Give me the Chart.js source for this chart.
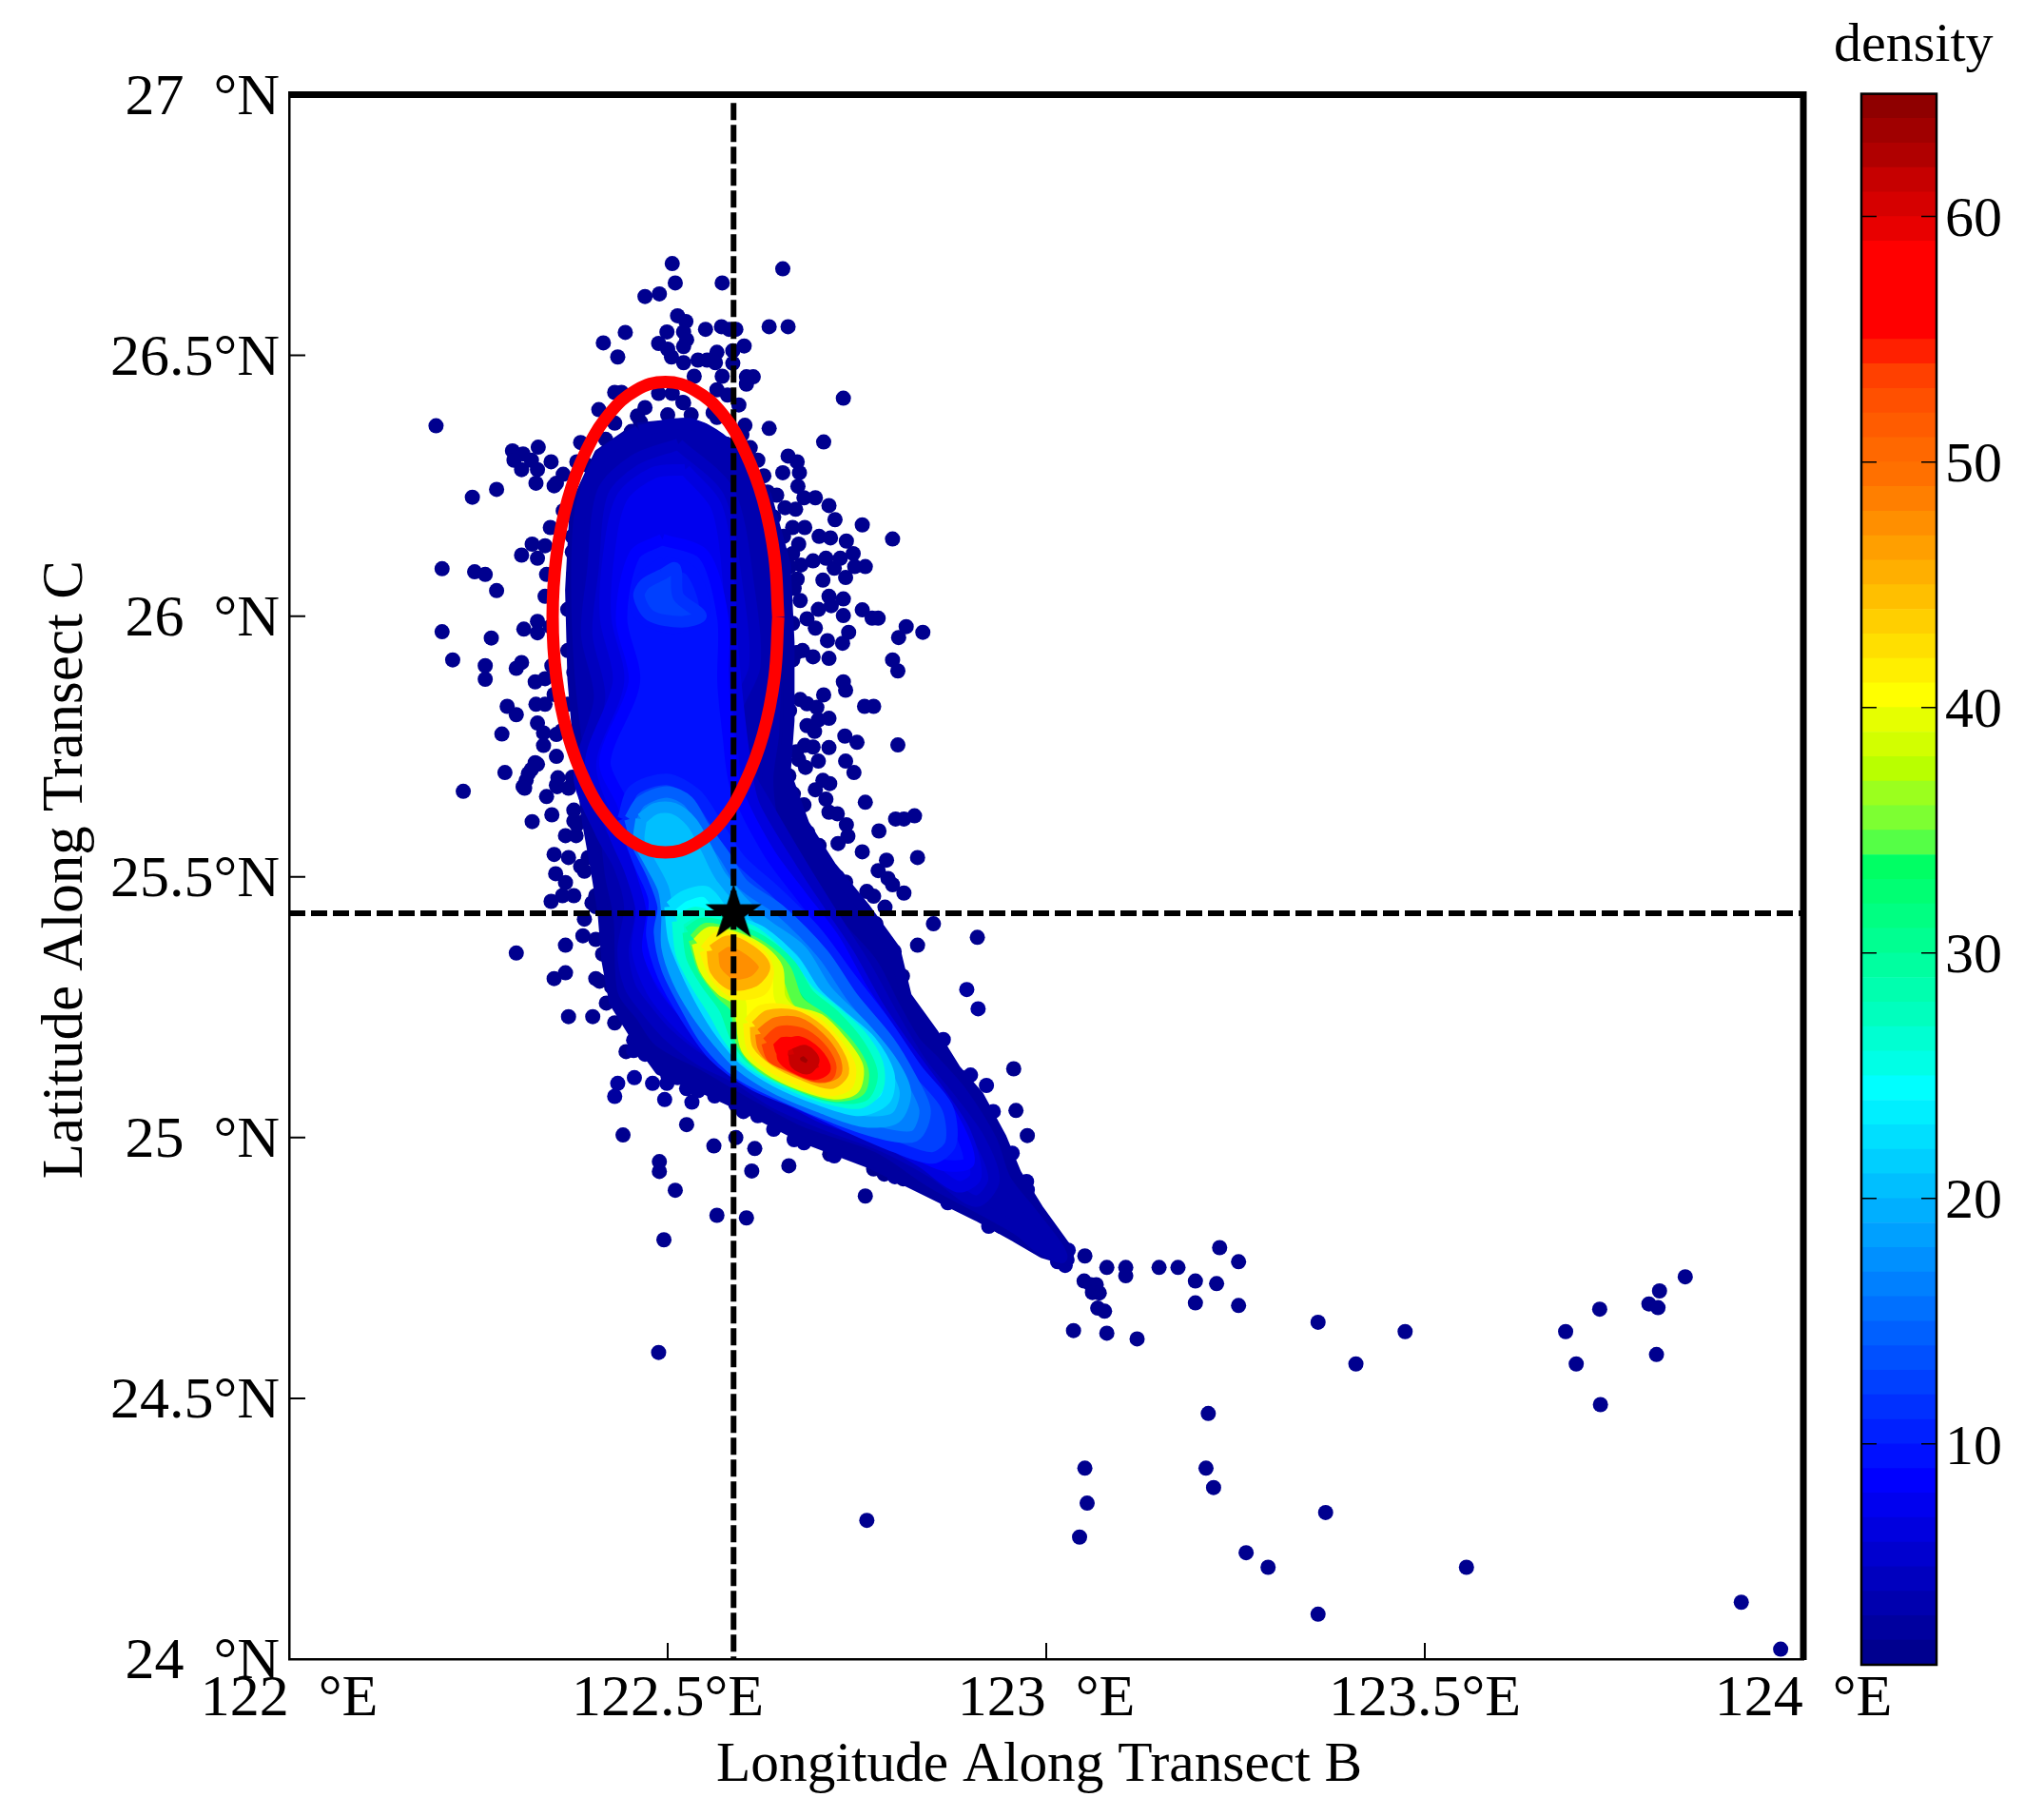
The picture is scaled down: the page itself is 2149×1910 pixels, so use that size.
<!DOCTYPE html>
<html>
<head>
<meta charset="utf-8">
<title>density</title>
<script src="https://cdn.jsdelivr.net/npm/chart.js@4/dist/chart.umd.js"></script>
<style>
  html, body { margin: 0; padding: 0; background: #fff; }
  #wrap { position: relative; width: 2149px; height: 1910px; }
  #mainBox { position: absolute; left: 0; top: 0; width: 2149px; height: 1910px; }
  #barBox { position: absolute; left: 1902px; top: 0; width: 247px; height: 1910px; }
</style>
</head>
<body>
<div id="wrap">
  <div id="mainBox"><canvas id="scatter"></canvas></div>
  <div id="barBox"><canvas id="colorbar"></canvas></div>
</div>
<script>
// ticks and labels
const xTicks = [122, 122.5, 123, 123.5, 124];
const xTickLabels = ['122  °E', '122.5°E', '123  °E', '123.5°E', '124  °E'];
const yTicks = [24, 24.5, 25, 25.5, 26, 26.5, 27];
const yTickLabels = ['24  °N', '24.5°N', '25  °N', '25.5°N', '26  °N', '26.5°N', '27  °N'];
const colorbarTicks = [10, 20, 30, 40, 50, 60];

// one colour per density band, 1-2 up to 64-65
const colorbarBands = [
  '#00008f','#00009f','#0000af','#0000bf','#0000cf','#0000df','#0000ef','#0000ff',
  '#0010ff','#0020ff','#0030ff','#0040ff','#0050ff','#0060ff','#0070ff','#0080ff',
  '#0090ff','#00a0ff','#00afff','#00bfff','#00cfff','#00dfff','#00efff','#00ffff',
  '#00ffe6','#00ffd2','#00ffbe','#00ffaf','#00ffa0','#00ff91','#00ff82','#00ff73','#00ff64',
  '#55ff46','#7dff32','#9bff1e','#b9ff00','#d2ff00','#e6ff00','#ffff00',
  '#ffef00','#ffdf00','#ffcf00','#ffbf00','#ffaf00','#ff9f00','#ff8f00','#ff7f00',
  '#ff7000','#ff6800','#ff5c00','#ff5000','#ff4000','#ff2000','#ff0000','#ff0000',
  '#ff0000','#ff0000','#e80000','#d60000','#c60000','#b00000','#a00000','#8f0000'
];

// reference lines and station
const stationLon = 122.587;
const stationLat = 25.43;
const ellipseOutline = [
  [122.646,25.998],[122.641,26.114],[122.626,26.223],[122.602,26.316],[122.572,26.388],[122.536,26.433],
  [122.497,26.449],[122.458,26.433],[122.423,26.388],[122.392,26.316],[122.368,26.223],[122.353,26.114],
  [122.348,25.998],[122.353,25.882],[122.368,25.773],[122.392,25.680],[122.423,25.608],[122.458,25.563],
  [122.497,25.547],[122.536,25.563],[122.572,25.608],[122.602,25.680],[122.626,25.773],[122.641,25.882],
  [122.646,25.998]
];

// isolated observations, lowest density
const farPoints = [
  [123.970,24.019],[123.918,24.109],[123.555,24.176],[123.359,24.086],[123.293,24.176],[123.264,24.204],
  [123.369,24.281],[123.044,24.234],[123.054,24.299],[123.051,24.366],[122.763,24.266],[123.221,24.329],
  [123.211,24.366],[123.214,24.471],[123.732,24.488],[123.409,24.566],[123.700,24.566],[123.806,24.584],
  [123.359,24.646],[123.686,24.628],[123.474,24.628],[123.731,24.671],[123.796,24.681],[123.808,24.674],
  [123.810,24.706],[123.844,24.733],[122.488,24.588],[122.495,24.804],[122.565,24.851],[122.604,24.846],
  [122.510,24.899],[122.489,24.954],[122.489,24.935],[122.441,25.005],[122.525,25.025],[122.590,25.000],
  [122.561,24.984],[122.615,24.979],[122.660,24.946],[122.611,24.936],[122.761,24.888],[122.714,24.968],
  [122.772,24.940],[122.786,24.930],[122.811,24.921],[122.975,25.004],[122.957,25.132],[122.960,25.052]
];
const tailPoints = [
  [123.051,24.773],[123.080,24.751],[123.105,24.751],[123.105,24.735],[123.149,24.751],[123.174,24.751],
  [123.229,24.789],[123.254,24.762],[123.197,24.725],[123.225,24.720],[123.197,24.683],[123.254,24.678],
  [123.050,24.725],[123.059,24.718],[123.066,24.718],[123.061,24.703],[123.070,24.702],[123.068,24.673],
  [123.077,24.667],[123.036,24.630],[123.080,24.625],[123.120,24.614]
];
const topCapPoints = [
  [122.506,26.676],[122.652,26.666],[122.510,26.639],[122.572,26.639],[122.489,26.618],[122.470,26.613],
  [122.513,26.576],[122.524,26.565],[122.444,26.544],[122.415,26.524],[122.434,26.497],[122.499,26.545],
  [122.521,26.545],[122.550,26.550],[122.571,26.555],[122.581,26.550],[122.590,26.550],[122.634,26.555],
  [122.659,26.555],[122.525,26.530],[122.521,26.517],[122.488,26.523],[122.500,26.512],[122.505,26.497],
  [122.521,26.486],[122.540,26.491],[122.552,26.491],[122.565,26.506],[122.563,26.486],[122.586,26.509],
  [122.601,26.518],[122.586,26.485],[122.535,26.460],[122.572,26.460],[122.604,26.445],[122.613,26.459],
  [122.604,26.459],[122.565,26.434],[122.579,26.424],[122.594,26.405],[122.732,26.418],[122.634,26.360],
  [122.706,26.334],[122.430,26.429],[122.439,26.429],[122.409,26.396],[122.488,26.427],[122.506,26.427],
  [122.521,26.409],[122.531,26.386],[122.500,26.386],[122.565,26.381],[122.547,26.356],[122.602,26.366],
  [122.460,26.384],[122.464,26.372],[122.452,26.354],[122.477,26.354],[122.443,26.330],[122.472,26.323],
  [122.506,26.360],[122.518,26.348],[122.544,26.330],[122.565,26.336],[122.577,26.330],[122.577,26.299],
  [122.598,26.348],[122.609,26.323],[122.619,26.299],[122.627,26.269],[122.606,26.275],[122.632,26.238],
  [122.644,26.232],[122.615,26.202],[122.627,26.178],[122.644,26.147],
  [122.430,26.370],[122.470,26.400],[122.520,26.410],[122.560,26.390],[122.610,26.290],[122.640,26.190]
];
const leftFlankPoints = [
  [122.194,26.365],[122.295,26.317],[122.309,26.311],[122.329,26.324],[122.297,26.299],[122.307,26.281],
  [122.320,26.299],[122.328,26.281],[122.326,26.255],[122.346,26.296],[122.353,26.255],[122.362,26.272],
  [122.274,26.243],[122.242,26.228],[122.307,26.117],[122.321,26.138],[122.328,26.111],[122.338,26.135],
  [122.202,26.091],[122.245,26.085],[122.259,26.080],[122.274,26.049],[122.338,26.038],[122.202,25.970],
  [122.267,25.958],[122.310,25.975],[122.328,25.990],[122.328,25.968],[122.216,25.916],[122.259,25.905],
  [122.259,25.879],[122.307,25.911],[122.300,25.900],[122.347,25.905],[122.325,25.874],[122.338,25.880],
  [122.288,25.827],[122.300,25.811],[122.326,25.831],[122.338,25.831],[122.328,25.795],[122.281,25.774],
  [122.336,25.776],[122.353,25.773],[122.336,25.752],[122.353,25.731],[122.328,25.716],[122.320,25.706],
  [122.285,25.700],[122.313,25.685],[122.230,25.664],[122.309,25.673],[122.353,25.676],[122.374,25.691],
  [122.385,26.333],[122.418,26.339],[122.426,26.308],[122.414,26.284],[122.393,26.290],[122.380,26.296],
  [122.380,26.226],[122.400,26.229],[122.362,26.202],[122.376,26.196],[122.400,26.193],[122.374,26.153],
  [122.389,26.162],[122.374,26.123],[122.389,26.129],[122.378,26.038],[122.405,26.044],[122.368,26.013],
  [122.387,26.007],[122.418,26.250],[122.401,26.226],[122.384,26.190],[122.397,26.190],[122.386,26.126],
  [122.376,26.080],[122.389,26.080],[122.380,26.038],[122.384,26.001],[122.368,25.934],[122.393,25.946],
  [122.376,25.892],[122.393,25.861],[122.368,25.831],[122.397,25.831],[122.325,25.719],[122.316,25.698],
  [122.311,25.670],[122.340,25.654],[122.354,25.673],[122.369,25.670],[122.347,25.619],[122.321,25.606],
  [122.376,25.628],[122.376,25.607],[122.390,25.607],[122.365,25.579],[122.379,25.579],[122.408,25.569],
  [122.350,25.543],[122.369,25.537],[122.395,25.537],[122.352,25.506],[122.390,25.511],[122.422,25.513],
  [122.365,25.489],[122.346,25.453],[122.361,25.464],[122.376,25.464],[122.405,25.464],[122.405,25.443],
  [122.426,25.452],[122.390,25.419],[122.426,25.412],[122.388,25.387],[122.365,25.369],[122.300,25.354],
  [122.414,25.352],[122.365,25.316],[122.350,25.305],[122.405,25.305],[122.426,25.289],[122.419,25.258],
  [122.369,25.232],[122.401,25.232],[122.393,25.694],[122.407,25.652],
  [122.350,26.250],[122.345,26.170],[122.340,26.080],[122.345,25.980],[122.350,25.850],[122.360,25.780],
  [122.355,25.690],[122.380,25.600],[122.385,25.520],[122.400,25.450],[122.405,25.380],[122.410,25.300],
  [122.430,25.220],[122.445,25.165]
];
const rightFlankPoints = [
  [122.659,26.307],[122.671,26.296],[122.674,26.275],[122.652,26.275],[122.672,26.249],[122.680,26.227],
  [122.695,26.227],[122.713,26.212],[122.721,26.185],[122.757,26.175],[122.797,26.148],[122.669,26.205],
  [122.655,26.208],[122.665,26.170],[122.681,26.170],[122.673,26.138],[122.653,26.153],[122.700,26.153],
  [122.715,26.150],[122.736,26.144],[122.745,26.120],[122.761,26.095],[122.747,26.095],[122.735,26.074],
  [122.705,26.069],[122.720,26.092],[122.728,26.111],[122.709,26.111],[122.692,26.106],[122.676,26.098],
  [122.661,26.095],[122.671,26.071],[122.667,26.053],[122.713,26.038],[122.732,26.033],[122.699,26.013],
  [122.732,26.001],[122.716,26.020],[122.684,25.995],[122.757,26.012],[122.770,25.996],[122.778,25.996],
  [122.815,25.980],[122.805,25.959],[122.837,25.969],[122.739,25.969],[122.731,25.948],[122.711,25.953],
  [122.695,25.977],[122.665,25.986],[122.713,25.919],[122.692,25.922],[122.665,25.916],[122.678,25.934],
  [122.797,25.916],[122.804,25.895],[122.732,25.874],[122.735,25.858],[122.706,25.849],[122.684,25.832],
  [122.697,25.825],[122.760,25.827],[122.772,25.827],[122.661,25.819],[122.651,25.855],[122.640,26.117],
  [122.644,26.074],[122.653,26.038],[122.653,25.983],[122.648,25.934],[122.653,25.886],[122.644,25.843],
  [122.713,25.804],[122.684,25.790],[122.699,25.801],[122.694,25.779],[122.734,25.770],[122.750,25.758],
  [122.713,25.748],[122.804,25.753],[122.681,25.752],[122.692,25.749],[122.673,25.725],[122.699,25.722],
  [122.682,25.710],[122.735,25.722],[122.746,25.700],[122.660,25.694],[122.705,25.685],[122.714,25.679],
  [122.695,25.667],[122.666,25.659],[122.761,25.643],[122.680,25.638],[122.709,25.649],[122.713,25.624],
  [122.724,25.621],[122.801,25.611],[122.812,25.611],[122.826,25.617],[122.736,25.600],[122.738,25.578],
  [122.779,25.588],[122.725,25.564],[122.685,25.585],[122.685,25.570],[122.757,25.548],[122.830,25.537],
  [122.789,25.532],[122.691,25.545],[122.694,25.524],[122.778,25.512],[122.791,25.497],[122.797,25.485],
  [122.812,25.469],[122.724,25.500],[122.763,25.472],[122.772,25.463],[122.738,25.463],[122.750,25.451],
  [122.787,25.442],[122.851,25.410],[122.909,25.384],[122.830,25.369],[122.772,25.378],[122.799,25.357],
  [122.665,26.120],[122.675,26.030],[122.670,25.930],[122.675,25.840],[122.670,25.740],[122.665,25.630],
  [122.700,25.560],[122.735,25.490],[122.775,25.410],[122.810,25.310]
];
const lowerFlankPoints = [
  [122.467,25.234],[122.455,25.187],[122.455,25.167],[122.482,25.164],[122.501,25.139],[122.513,25.136],
  [122.434,25.104],[122.456,25.115],[122.480,25.104],[122.499,25.104],[122.430,25.079],[122.496,25.073],
  [122.532,25.068],[122.513,25.115],[122.525,25.094],[122.535,25.111],[122.562,25.080],[122.573,25.083],
  [122.590,25.063],[122.600,25.083],[122.619,25.042],[122.640,25.016],[122.667,24.996],[122.470,25.206],
  [122.503,25.171],[122.523,25.185],[122.542,25.129],[122.559,25.108],[122.580,25.094],[122.614,25.087],
  [122.643,25.045],[122.662,25.031],[122.705,24.996],[122.749,24.982],[122.777,24.954],[122.840,24.913],
  [122.859,24.892],[122.898,24.871],[122.758,25.401],[122.763,25.366],[122.773,25.331],[122.787,25.289],
  [122.806,25.261],[122.797,25.220],[122.809,25.265],[122.818,25.237],[122.830,25.178],[122.850,25.157],
  [122.864,25.188],[122.869,25.122],[122.888,25.115],[122.893,25.108],[122.921,25.100],[122.879,25.073],
  [122.907,25.045],[122.922,25.010],[122.936,24.968],[122.946,24.940],[122.974,24.916],[122.964,24.894],
  [122.978,24.873],[122.988,24.847],[122.938,24.968],[122.974,24.816],[122.996,24.819],[122.992,24.807],
  [123.003,24.791],[123.022,24.789],[123.029,24.784],[123.015,24.762],[123.025,24.755],[123.019,24.773],
  [122.924,24.830],[122.895,25.284],[122.910,25.247],
  [122.830,25.230],[122.860,25.170],[122.900,25.120],[122.930,25.050],[122.955,24.970],[122.975,24.900],
  [122.680,24.990],[122.720,24.965],[122.800,24.925],[122.870,24.875],[122.940,24.830],[122.600,25.050],
  [122.540,25.090],[122.500,25.120],[122.470,25.160]
];

// density contours, one named outline per colour band
const contour1 = [[122.460,26.360],[122.530,26.370],[122.590,26.320],[122.630,26.230],[122.655,26.100],[122.660,25.950],[122.660,25.800],[122.655,25.700],[122.680,25.600],[122.715,25.520],[122.760,25.440],[122.800,25.360],[122.815,25.270],[122.850,25.200],[122.880,25.130],[122.910,25.080],[122.940,25.000],[122.960,24.930],[122.990,24.860],[123.025,24.790],[123.030,24.765],[122.995,24.780],[122.960,24.810],[122.910,24.850],[122.840,24.900],[122.770,24.950],[122.680,25.000],[122.600,25.060],[122.540,25.100],[122.490,25.130],[122.460,25.190],[122.430,25.260],[122.420,25.340],[122.415,25.430],[122.405,25.520],[122.395,25.600],[122.385,25.710],[122.375,25.880],[122.372,26.050],[122.378,26.210],[122.410,26.310],[122.460,26.360]];
const contour2 = [[122.462,26.356],[122.531,26.368],[122.585,26.318],[122.625,26.181],[122.640,26.006],[122.640,25.781],[122.632,25.681],[122.645,25.581],[122.705,25.440],[122.768,25.338],[122.800,25.250],[122.826,25.185],[122.854,25.143],[122.888,25.087],[122.927,24.996],[122.946,24.919],[122.979,24.858],[123.015,24.790],[123.020,24.770],[122.990,24.790],[122.966,24.820],[122.922,24.857],[122.850,24.913],[122.777,24.982],[122.681,25.031],[122.609,25.087],[122.551,25.136],[122.489,25.185],[122.465,25.234],[122.441,25.282],[122.436,25.422],[122.425,25.500],[122.418,25.581],[122.400,25.706],[122.385,25.881],[122.380,26.056],[122.385,26.206],[122.412,26.306],[122.462,26.356]];
const contour5 = [[122.514,26.330],[122.581,26.238],[122.607,26.056],[122.615,25.904],[122.590,25.813],[122.604,25.708],[122.633,25.631],[122.681,25.513],[122.720,25.422],[122.763,25.324],[122.797,25.234],[122.835,25.143],[122.874,25.073],[122.912,24.996],[122.931,24.919],[122.907,24.878],[122.850,24.933],[122.787,24.982],[122.710,25.024],[122.643,25.066],[122.590,25.115],[122.542,25.150],[122.499,25.199],[122.470,25.248],[122.450,25.290],[122.441,25.359],[122.450,25.443],[122.436,25.520],[122.412,25.583],[122.383,25.694],[122.410,25.843],[122.393,25.965],[122.401,26.086],[122.414,26.238],[122.456,26.299],[122.514,26.330]];
const contour7 = [[122.523,26.281],[122.565,26.208],[122.581,26.056],[122.586,25.934],[122.600,25.743],[122.614,25.638],[122.662,25.520],[122.700,25.436],[122.739,25.352],[122.777,25.254],[122.816,25.171],[122.859,25.087],[122.893,25.010],[122.907,24.926],[122.883,24.906],[122.835,24.954],[122.773,25.003],[122.705,25.038],[122.652,25.080],[122.595,25.129],[122.551,25.171],[122.513,25.220],[122.479,25.282],[122.460,25.359],[122.465,25.436],[122.450,25.513],[122.431,25.576],[122.398,25.715],[122.435,25.874],[122.418,25.995],[122.422,26.117],[122.439,26.226],[122.481,26.275],[122.523,26.281]];
const contour9 = [[122.493,26.147],[122.548,26.117],[122.573,25.995],[122.573,25.874],[122.580,25.771],[122.590,25.673],[122.633,25.548],[122.676,25.464],[122.720,25.380],[122.758,25.282],[122.797,25.199],[122.835,25.115],[122.874,25.045],[122.898,24.954],[122.864,24.947],[122.821,24.975],[122.758,25.017],[122.696,25.052],[122.643,25.094],[122.590,25.143],[122.542,25.206],[122.499,25.282],[122.474,25.359],[122.479,25.436],[122.465,25.513],[122.441,25.638],[122.417,25.722],[122.456,25.874],[122.439,25.995],[122.456,26.117],[122.493,26.147]];
const contour11Upper = [[122.495,26.105],[122.531,26.086],[122.548,26.007],[122.506,25.977],[122.460,26.007],[122.464,26.068],[122.495,26.105]];
const contour13Upper = [[122.493,26.080],[122.510,26.092],[122.514,26.038],[122.544,26.001],[122.518,25.989],[122.477,26.001],[122.462,26.038],[122.470,26.062],[122.493,26.080]];
const contour11 = [[122.441,25.611],[122.455,25.666],[122.499,25.687],[122.537,25.659],[122.561,25.610],[122.595,25.534],[122.643,25.471],[122.696,25.394],[122.739,25.310],[122.787,25.220],[122.830,25.129],[122.869,25.059],[122.874,24.989],[122.850,24.961],[122.801,24.982],[122.734,25.024],[122.672,25.066],[122.614,25.101],[122.561,25.157],[122.523,25.234],[122.494,25.310],[122.479,25.387],[122.482,25.457],[122.462,25.527],[122.441,25.611]];
const contour16 = [[122.450,25.611],[122.465,25.645],[122.499,25.663],[122.527,25.645],[122.547,25.597],[122.575,25.541],[122.600,25.485],[122.648,25.436],[122.705,25.352],[122.744,25.269],[122.792,25.185],[122.821,25.115],[122.840,25.052],[122.826,25.003],[122.777,25.010],[122.720,25.038],[122.652,25.080],[122.595,25.122],[122.551,25.185],[122.523,25.254],[122.499,25.324],[122.489,25.394],[122.494,25.443],[122.479,25.506],[122.460,25.562],[122.450,25.611]];
const contour20 = [[122.465,25.611],[122.484,25.631],[122.508,25.631],[122.532,25.604],[122.551,25.555],[122.571,25.499],[122.624,25.415],[122.676,25.359],[122.710,25.282],[122.758,25.213],[122.797,25.143],[122.814,25.087],[122.801,25.038],[122.758,25.031],[122.700,25.059],[122.643,25.094],[122.595,25.139],[122.566,25.185],[122.537,25.241],[122.513,25.303],[122.499,25.366],[122.499,25.429],[122.494,25.478],[122.474,25.534],[122.462,25.569],[122.465,25.611]];
const contour24 = [[122.503,25.443],[122.523,25.464],[122.551,25.471],[122.580,25.422],[122.624,25.394],[122.667,25.338],[122.696,25.276],[122.729,25.234],[122.768,25.185],[122.792,25.122],[122.787,25.073],[122.753,25.052],[122.700,25.073],[122.643,25.108],[122.600,25.150],[122.571,25.199],[122.547,25.254],[122.523,25.324],[122.508,25.380],[122.503,25.443]];
const contour29 = [[122.513,25.415],[122.537,25.432],[122.571,25.415],[122.614,25.394],[122.657,25.338],[122.686,25.282],[122.715,25.248],[122.753,25.199],[122.777,25.143],[122.777,25.094],[122.753,25.066],[122.700,25.080],[122.643,25.115],[122.604,25.150],[122.580,25.192],[122.561,25.241],[122.537,25.296],[122.518,25.352],[122.513,25.415]];
const contour33 = [[122.527,25.394],[122.547,25.411],[122.585,25.401],[122.624,25.377],[122.662,25.331],[122.686,25.275],[122.720,25.234],[122.753,25.178],[122.770,25.122],[122.758,25.080],[122.710,25.080],[122.657,25.111],[122.609,25.153],[122.590,25.192],[122.575,25.248],[122.551,25.296],[122.532,25.345],[122.527,25.394]];
const contour37 = [[122.535,25.380],[122.551,25.401],[122.585,25.391],[122.624,25.366],[122.655,25.324],[122.672,25.262],[122.705,25.227],[122.739,25.178],[122.758,25.129],[122.753,25.090],[122.720,25.080],[122.672,25.101],[122.624,25.136],[122.597,25.185],[122.590,25.248],[122.571,25.276],[122.547,25.324],[122.535,25.380]];
const contour41 = [[122.539,25.373],[122.556,25.394],[122.590,25.384],[122.624,25.359],[122.645,25.324],[122.648,25.269],[122.662,25.244],[122.700,25.227],[122.729,25.185],[122.751,25.136],[122.746,25.094],[122.720,25.084],[122.676,25.101],[122.633,25.132],[122.604,25.171],[122.597,25.234],[122.595,25.262],[122.571,25.283],[122.549,25.324],[122.539,25.373]];
const contour44Upper = [[122.549,25.359],[122.566,25.384],[122.595,25.377],[122.624,25.349],[122.633,25.317],[122.624,25.283],[122.590,25.276],[122.563,25.310],[122.549,25.359]];
const contour44Lower = [[122.607,25.220],[122.624,25.244],[122.657,25.244],[122.696,25.220],[122.724,25.178],[122.741,25.136],[122.737,25.101],[122.710,25.090],[122.672,25.111],[122.638,25.136],[122.612,25.171],[122.607,25.220]];
const contour47Upper = [[122.559,25.359],[122.580,25.377],[122.609,25.359],[122.628,25.328],[122.614,25.300],[122.585,25.293],[122.563,25.321],[122.559,25.359]];
const contour47Lower = [[122.616,25.213],[122.633,25.234],[122.667,25.234],[122.700,25.206],[122.724,25.164],[122.732,25.125],[122.715,25.104],[122.676,25.122],[122.643,25.146],[122.619,25.178],[122.616,25.213]];
const contour52 = [[122.623,25.199],[122.643,25.220],[122.672,25.220],[122.700,25.192],[122.720,25.153],[122.722,25.125],[122.700,25.115],[122.667,25.132],[122.638,25.153],[122.626,25.174],[122.623,25.199]];
const contour56 = [[122.631,25.182],[122.648,25.203],[122.676,25.200],[122.700,25.175],[122.715,25.140],[122.712,25.119],[122.691,25.119],[122.662,25.137],[122.638,25.154],[122.631,25.182]];
const contour60 = [[122.652,25.174],[122.672,25.184],[122.696,25.163],[122.708,25.132],[122.693,25.121],[122.667,25.135],[122.652,25.153],[122.652,25.174]];
const contour63 = [[122.667,25.160],[122.681,25.167],[122.693,25.149],[122.684,25.132],[122.669,25.142],[122.667,25.160]];

const dotRadius = 8;

function dots(points, level) {
  const c = colorbarBands[level - 1];
  return { data: points, pointRadius: dotRadius, backgroundColor: c, pointBackgroundColor: c, pointBorderWidth: 0, showLine: false };
}

// edge is a lower band, painted as a wide rim so neighbouring contours blend
function band(points, level, edge, tension = 0.3) {
  return {
    data: points, showLine: true, pointRadius: 0, fill: 'shape', backgroundColor: colorbarBands[level - 1],
    borderColor: colorbarBands[edge - 1], borderWidth: 12, borderJoinStyle: 'round', tension
  };
}

// filled black five pointed star for the station marker
function starCanvas(radius) {
  const cv = document.createElement('canvas');
  cv.width = cv.height = radius * 2 + 2;
  const g = cv.getContext('2d');
  g.translate(radius + 1, radius + 1);
  g.beginPath();
  for (let i = 0; i < 10; i++) {
    const r = i % 2 ? radius * 0.382 : radius;
    const a = -Math.PI / 2 + i * Math.PI / 5;
    g.lineTo(r * Math.cos(a), r * Math.sin(a));
  }
  g.closePath();
  g.fillStyle = '#000';
  g.fill();
  return cv;
}

// built bottom layer first, reversed below because chart.js paints the first dataset last
const layers = [
  dots(farPoints, 1), dots(tailPoints, 1), dots(topCapPoints, 1), dots(leftFlankPoints, 1),
  dots(rightFlankPoints, 1), dots(lowerFlankPoints, 2),
  band(contour1, 2, 2, 0), band(contour2, 3, 3), band(contour5, 5, 4), band(contour7, 7, 6), band(contour9, 9, 8),
  band(contour11Upper, 10, 9), band(contour13Upper, 12, 11),
  band(contour11, 12, 10), band(contour16, 16, 14), band(contour20, 20, 18), band(contour24, 24, 22),
  band(contour29, 27, 26), band(contour33, 32, 29), band(contour37, 37, 34), band(contour41, 40, 39),
  band(contour44Upper, 43, 41), band(contour44Lower, 43, 41), band(contour47Upper, 47, 45), band(contour47Lower, 47, 45),
  band(contour52, 52, 49), band(contour56, 55, 53), band(contour60, 60, 58), band(contour63, 63, 61),
  { data: [[stationLon, 26.984], [stationLon, 24]], showLine: true, pointRadius: 0, borderColor: '#000', borderWidth: 6, borderDash: [18, 5] },
  { data: [[122, stationLat], [124, stationLat]], showLine: true, pointRadius: 0, borderColor: '#000', borderWidth: 6, borderDash: [17, 6] },
  { data: ellipseOutline, showLine: true, pointRadius: 0, borderColor: '#ff0000', borderWidth: 13, tension: 0.4 },
  { data: [[stationLon, 25.43]], pointStyle: starCanvas(31), pointRadius: 20, showLine: false, clip: false }
];

// inward ticks and the heavy top and right edges
const scatterFrame = {
  id: 'scatterFrame',
  afterDraw(chart) {
    const { ctx, chartArea: a, scales } = chart;
    ctx.save();
    ctx.strokeStyle = '#000';
    ctx.lineWidth = 2;
    ctx.beginPath();
    xTicks.slice(1, -1).forEach(v => {
      const p = scales.x.getPixelForValue(v);
      ctx.moveTo(p, a.bottom);
      ctx.lineTo(p, a.bottom - 17);
    });
    yTicks.slice(1, -1).forEach(v => {
      const p = scales.y.getPixelForValue(v);
      ctx.moveTo(a.left, p);
      ctx.lineTo(a.left + 17, p);
    });
    ctx.stroke();
    ctx.lineWidth = 7;
    ctx.beginPath();
    ctx.moveTo(a.left - 1, a.top);
    ctx.lineTo(a.right, a.top);
    ctx.lineTo(a.right, a.bottom + 1);
    ctx.stroke();
    ctx.restore();
  }
};

const serif = 'Liberation Serif';

new Chart(document.getElementById('scatter'), {
  type: 'scatter',
  data: { datasets: layers.reverse() },
  plugins: [scatterFrame],
  options: {
    responsive: true,
    maintainAspectRatio: false,
    animation: false,
    events: [],
    layout: { padding: { top: 99.5, right: 253, left: 0, bottom: 0 } },
    plugins: { legend: { display: false }, tooltip: { enabled: false } },
    scales: {
      x: {
        type: 'linear', min: 122, max: 124,
        afterBuildTicks: s => { s.ticks = xTicks.map(v => ({ value: v })); },
        afterFit: s => { s.height = 166; },
        grid: { display: false, drawTicks: false },
        border: { display: true, color: '#000', width: 2.5 },
        ticks: {
          autoSkip: false, maxRotation: 0, padding: 6, color: '#000',
          font: { family: serif, size: 62 },
          callback: v => xTickLabels[xTicks.indexOf(v)]
        },
        title: { display: true, text: 'Longitude Along Transect B ', color: '#000', font: { family: serif, size: 59.4 }, padding: { top: 0, bottom: 18 } }
      },
      y: {
        type: 'linear', min: 24, max: 27,
        afterBuildTicks: s => { s.ticks = yTicks.map(v => ({ value: v })); },
        afterFit: s => { s.width = 304; },
        grid: { display: false, drawTicks: false },
        border: { display: true, color: '#000', width: 2.5 },
        ticks: {
          autoSkip: false, padding: 10, color: '#000',
          font: { family: serif, size: 62, lineHeight: '8px' },
          // empty first line pushes the label down to where the reference has it
          callback: v => ['', yTickLabels[yTicks.indexOf(v)]]
        },
        title: { display: true, text: ' Latitude Along Transect C', color: '#000', font: { family: serif, size: 61 }, padding: { top: 33, bottom: 0 } }
      }
    }
  }
});

// colorbar: one floating bar per density band
const colorbarFrame = {
  id: 'colorbarFrame',
  afterDraw(chart) {
    const { ctx, chartArea: a, scales } = chart;
    ctx.save();
    ctx.strokeStyle = '#000';
    ctx.lineWidth = 1.5;
    ctx.beginPath();
    colorbarTicks.forEach(v => {
      const p = scales.y.getPixelForValue(v);
      ctx.moveTo(a.left, p);
      ctx.lineTo(a.left + 16, p);
      ctx.moveTo(a.right, p);
      ctx.lineTo(a.right - 16, p);
    });
    ctx.stroke();
    ctx.lineWidth = 2.5;
    ctx.strokeRect(a.left, a.top, a.right - a.left, a.bottom - a.top);
    ctx.restore();
  }
};

new Chart(document.getElementById('colorbar'), {
  type: 'bar',
  data: {
    labels: ['density'],
    datasets: colorbarBands.map((c, i) => ({
      data: [[i + 1, i + 2]], backgroundColor: c, grouped: false, barPercentage: 1, categoryPercentage: 1
    }))
  },
  plugins: [colorbarFrame],
  options: {
    responsive: true,
    maintainAspectRatio: false,
    animation: false,
    events: [],
    layout: { padding: { left: 26, right: 0, top: 0, bottom: 160 } },
    plugins: {
      legend: { display: false },
      tooltip: { enabled: false },
      title: {
        display: true, text: 'density', align: 'start', color: '#000',
        font: { family: serif, size: 58, weight: 'normal' },
        padding: { top: 14, bottom: 15 }
      }
    },
    scales: {
      x: { display: false, offset: true },
      y: {
        position: 'right', min: 1, max: 65,
        afterBuildTicks: s => { s.ticks = colorbarTicks.map(v => ({ value: v })); },
        afterFit: s => { s.width = 113; },
        grid: { display: false, drawTicks: false },
        border: { display: false },
        ticks: {
          padding: 9, color: '#000', autoSkip: false,
          font: { family: serif, size: 60, lineHeight: '10px' },
          callback: v => ['', String(v)]
        }
      },
      // empty axis, only holds the bar clear of the start of the title
      gap: {
        position: 'left', display: true,
        afterFit: s => { s.width = 29; },
        grid: { display: false, drawTicks: false },
        border: { display: false },
        ticks: { display: false }
      }
    }
  }
});
</script>
</body>
</html>
